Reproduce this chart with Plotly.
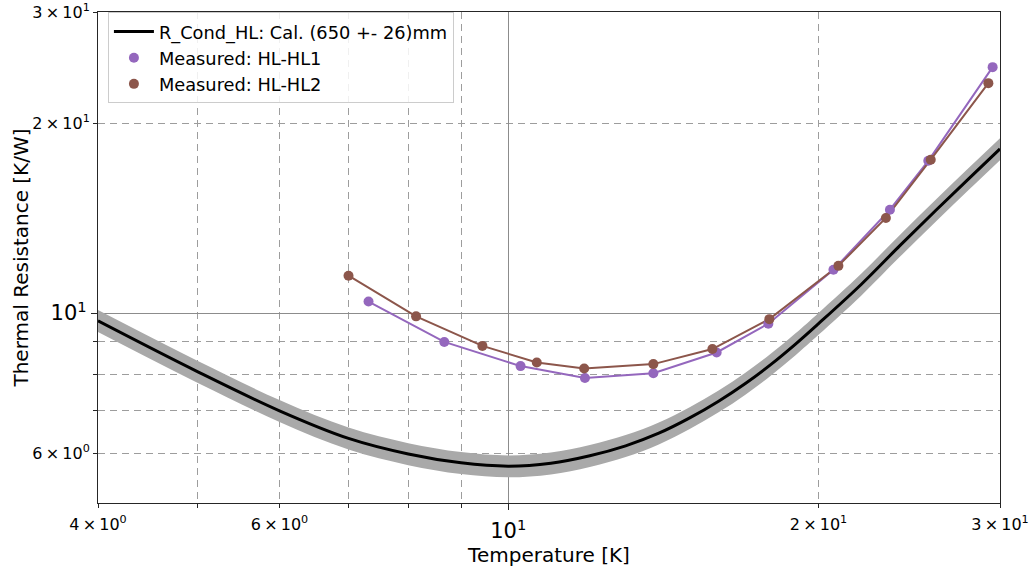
import math
import plotly.graph_objects as go

# Calculated conduction resistance of the heat link (nominal length 650 mm)
T_model = [4, 5, 6, 7, 8, 9, 10, 11, 12, 13, 14, 15, 16, 17, 18, 19, 20, 22, 24, 26, 28, 30]
R_model = [9.72, 8.07, 7.00, 6.33, 5.98, 5.79, 5.72, 5.78, 5.94, 6.16, 6.45, 6.82, 7.25,
           7.74, 8.30, 8.93, 9.62, 11.10, 12.80, 14.55, 16.35, 18.20]
L_nom = 650.0   # mm
L_err = 26.0    # mm

# Measured resistances
T_hl1 = [7.32, 8.67, 10.28, 11.87, 13.83, 15.93, 17.88, 20.68, 23.46, 25.56, 29.51]
R_hl1 = [10.43, 9.00, 8.24, 7.89, 8.03, 8.66, 9.62, 11.71, 14.58, 17.43, 24.53]
T_hl2 = [7.00, 8.14, 9.44, 10.66, 11.85, 13.83, 15.78, 17.92, 20.91, 23.25, 25.70, 29.23]
R_hl2 = [11.46, 9.88, 8.87, 8.35, 8.17, 8.30, 8.77, 9.78, 11.88, 14.15, 17.50, 23.14]

# Tick definitions
x_major = [10]
x_major_text = ["10<sup>1</sup>"]
x_minor = [5, 6, 7, 8, 9, 20]
x_small = [4, 6, 20, 30]
x_small_text = ["4\u2009×\u200910<sup>0</sup>", "6\u2009×\u200910<sup>0</sup>",
                "2\u2009×\u200910<sup>1</sup>", "3\u2009×\u200910<sup>1</sup>"]
y_major = [10]
y_major_text = ["10<sup>1</sup>"]
y_minor = [6, 7, 8, 9, 20]
y_small = [6, 20, 30]
y_small_text = ["6\u2009×\u200910<sup>0</sup>", "2\u2009×\u200910<sup>1</sup>",
                "3\u2009×\u200910<sup>1</sup>"]

x_range = [4, 30]
y_range = [5, 30]

PURPLE = "#9467bd"
BROWN = "#8c564b"
SPINE = "#262626"
FONT = "DejaVu Sans"

band_lo = [r * (L_nom - L_err) / L_nom for r in R_model]
band_hi = [r * (L_nom + L_err) / L_nom for r in R_model]

fig = go.Figure()

# uncertainty band from the length tolerance
fig.add_trace(go.Scatter(x=T_model, y=band_lo, mode="lines", line=dict(width=0, shape="spline"),
                         showlegend=False, hoverinfo="skip"))
fig.add_trace(go.Scatter(x=T_model, y=band_hi, mode="lines", line=dict(width=0, shape="spline"),
                         fill="tonexty", fillcolor="#a9a9a9", showlegend=False, hoverinfo="skip"))

fig.add_trace(go.Scatter(x=T_model, y=R_model, mode="lines",
                         line=dict(color="black", width=3, shape="spline"),
                         name="R_Cond_HL: Cal. (650 +- 26)mm"))

# connecting lines of the measurements
fig.add_trace(go.Scatter(x=T_hl1, y=R_hl1, mode="lines", line=dict(color=PURPLE, width=2),
                         showlegend=False, hoverinfo="skip"))
fig.add_trace(go.Scatter(x=T_hl2, y=R_hl2, mode="lines", line=dict(color=BROWN, width=2),
                         showlegend=False, hoverinfo="skip"))

fig.add_trace(go.Scatter(x=T_hl1, y=R_hl1, mode="markers", marker=dict(color=PURPLE, size=10),
                         name="Measured: HL-HL1"))
fig.add_trace(go.Scatter(x=T_hl2, y=R_hl2, mode="markers", marker=dict(color=BROWN, size=10),
                         name="Measured: HL-HL2"))

# carrier for the secondary (label-only) axes
fig.add_trace(go.Scatter(x=T_model, y=R_model, xaxis="x2", yaxis="y2", mode="lines",
                         line=dict(width=0), opacity=0, showlegend=False, hoverinfo="skip"))

xr = [math.log10(v) for v in x_range]
yr = [math.log10(v) for v in y_range]

axis_common = dict(type="log", showline=True, linecolor=SPINE, linewidth=1.3, mirror=True,
                   ticks="outside", ticklen=6, tickwidth=1.2, tickcolor=SPINE,
                   showgrid=True, gridcolor="#8c8c8c", gridwidth=1.2, zeroline=False,
                   automargin=False,
                   tickfont=dict(size=21, color="black", family=FONT))
minor_common = dict(ticks="outside", ticklen=4, tickwidth=1, tickcolor=SPINE,
                    showgrid=True, gridcolor="#9d9d9d", gridwidth=1.3, griddash="7px,5px")
label_axis = dict(type="log", ticks="outside", ticklen=4, tickcolor=SPINE, showgrid=False,
                  showline=False, zeroline=False, automargin=False,
                  tickfont=dict(size=16, color="black", family=FONT))

fig.update_layout(
    width=1032, height=568, autosize=False,
    margin=dict(l=98, r=32, t=12, b=65, autoexpand=False),
    paper_bgcolor="white", plot_bgcolor="white",
    font=dict(family=FONT, color="black"),
    xaxis=dict(axis_common, range=xr, tickvals=x_major, ticktext=x_major_text,
               ticklabelstandoff=3,
               minor=dict(minor_common, tickvals=x_minor),
               title=dict(text="Temperature [K]", font=dict(size=20), standoff=4)),
    yaxis=dict(axis_common, range=yr, tickvals=y_major, ticktext=y_major_text,
               minor=dict(minor_common, tickvals=y_minor),
               title=dict(text="Thermal Resistance [K/W]", font=dict(size=20), standoff=16)),
    xaxis2=dict(label_axis, range=xr, overlaying="x", side="bottom", anchor="y2",
                tickvals=x_small, ticktext=x_small_text, ticklabelstandoff=3),
    yaxis2=dict(label_axis, range=yr, overlaying="y", side="left", anchor="x2",
                tickvals=y_small, ticktext=y_small_text),
    legend=dict(x=0.011, y=0.999, xanchor="left", yanchor="top", traceorder="normal",
                bgcolor="rgba(255,255,255,0.85)", bordercolor="#cccccc", borderwidth=1,
                itemwidth=40,
                font=dict(size=17.8, family=FONT), tracegroupgap=0),
    showlegend=True,
)

fig.write_html("out.html")
